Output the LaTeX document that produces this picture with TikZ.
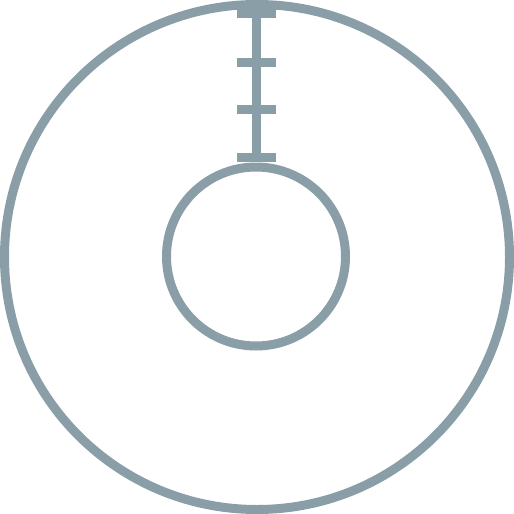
\documentclass[tikz,border=0pt]{standalone}
\definecolor{ringgray}{RGB}{138,158,168}
\begin{document}
\begin{tikzpicture}[x=1pt,y=-1pt,
  ring/.style={draw=ringgray,line width=9pt},
  tick/.style={fill=ringgray}]
\useasboundingbox (0,0) rectangle (514,514);
\draw[ring] (257,257) circle[radius=252.5];
\draw[ring] (256,256.5) circle[radius=89.5];
\draw[draw=ringgray,line width=9pt] (256.5,4) -- (256.5,162);
\fill[tick] (237,4) rectangle (276,18);
\fill[tick] (237,58) rectangle (276,67);
\fill[tick] (237,105) rectangle (276,114);
\fill[tick] (237,153) rectangle (276,162);
\end{tikzpicture}
\end{document}
